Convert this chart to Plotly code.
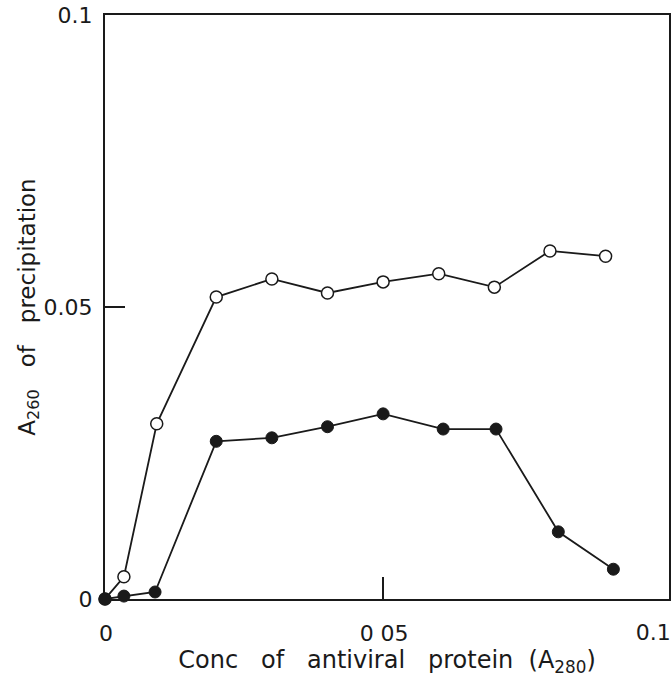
import plotly.graph_objects as go

# Concentration of antiviral protein (A280)
x_open = [0, 0.0034, 0.0093, 0.02, 0.03, 0.04, 0.05, 0.06, 0.07, 0.08, 0.09]
y_open = [0, 0.0038, 0.030, 0.0517, 0.0548, 0.0524, 0.0543, 0.0557, 0.0534, 0.0596, 0.0587]

x_filled = [0, 0.0034, 0.009, 0.02, 0.03, 0.04, 0.05, 0.0608, 0.0703, 0.0815, 0.0914]
y_filled = [0, 0.0005, 0.0012, 0.027, 0.0276, 0.0295, 0.0317, 0.0291, 0.0291, 0.0115, 0.0051]

x_tickvals = [0, 0.05]
x_ticktext = ["0", "0 05"]
x_end_tickval = [0.1]
x_end_ticktext = ["0.1"]
y_tickvals = [0, 0.05, 0.1]
y_ticktext = ["0", "0.05", "0.1"]

FONT = "DejaVu Sans"
INK = "#1a1a1a"

fig = go.Figure()
fig.add_trace(go.Scatter(
    x=x_open, y=y_open, mode="lines+markers",
    line=dict(color=INK, width=1.8),
    marker=dict(symbol="circle", size=12, color="white",
                line=dict(color=INK, width=1.5)),
    showlegend=False, cliponaxis=False,
))
fig.add_trace(go.Scatter(
    x=x_filled, y=y_filled, mode="lines+markers",
    line=dict(color=INK, width=1.8),
    marker=dict(symbol="circle", size=12, color=INK,
                line=dict(color=INK, width=1)),
    showlegend=False, cliponaxis=False,
))

xmax = 0.1014
fig.update_layout(
    width=671, height=683,
    margin=dict(l=105, r=2, t=15, b=84),
    paper_bgcolor="white", plot_bgcolor="white",
    font=dict(family=FONT, size=20, color=INK),
    xaxis=dict(
        range=[0, xmax], tickvals=x_tickvals, ticktext=x_ticktext,
        ticks="", showgrid=False, zeroline=False, automargin=False,
        showline=True, linecolor=INK, linewidth=2, mirror=True,
        ticklabelstandoff=14, ticklabelshift=1,
        tickfont=dict(family=FONT, size=22),
        title=dict(text="Conc   of   antiviral   protein  (A<sub>280</sub>)",
                   font=dict(family=FONT, size=24), standoff=2),
    ),
    xaxis2=dict(
        range=[0, xmax], overlaying="x", anchor="y", side="bottom",
        tickvals=[0.05], ticks="inside", ticklen=22, tickwidth=2,
        tickcolor=INK, showticklabels=False, showgrid=False,
        zeroline=False, showline=False, automargin=False,
    ),
    xaxis3=dict(
        range=[0, xmax], overlaying="x", anchor="y", side="bottom",
        tickvals=x_end_tickval, ticktext=x_end_ticktext, ticks="",
        showgrid=False, zeroline=False, showline=False, automargin=False,
        ticklabelstandoff=18, ticklabelshift=-8, ticklabeloverflow="allow",
        tickfont=dict(family=FONT, size=22),
    ),
    yaxis=dict(
        range=[0, 0.1], tickvals=y_tickvals, ticktext=y_ticktext,
        ticks="inside", ticklen=20, tickwidth=2, tickcolor=INK,
        showgrid=False, zeroline=False, automargin=False,
        showline=True, linecolor=INK, linewidth=2, mirror=True,
        ticklabelstandoff=6,
        tickfont=dict(family=FONT, size=22),
        title=dict(text="A<sub>260</sub>   of   precipitation",
                   font=dict(family=FONT, size=23), standoff=2),
    ),
)
# empty traces to activate the overlay axes
fig.add_trace(go.Scatter(x=[None], y=[None], xaxis="x2", yaxis="y",
                         showlegend=False, hoverinfo="skip"))
fig.add_trace(go.Scatter(x=[None], y=[None], xaxis="x3", yaxis="y",
                         showlegend=False, hoverinfo="skip"))

fig.write_html("out.html")
